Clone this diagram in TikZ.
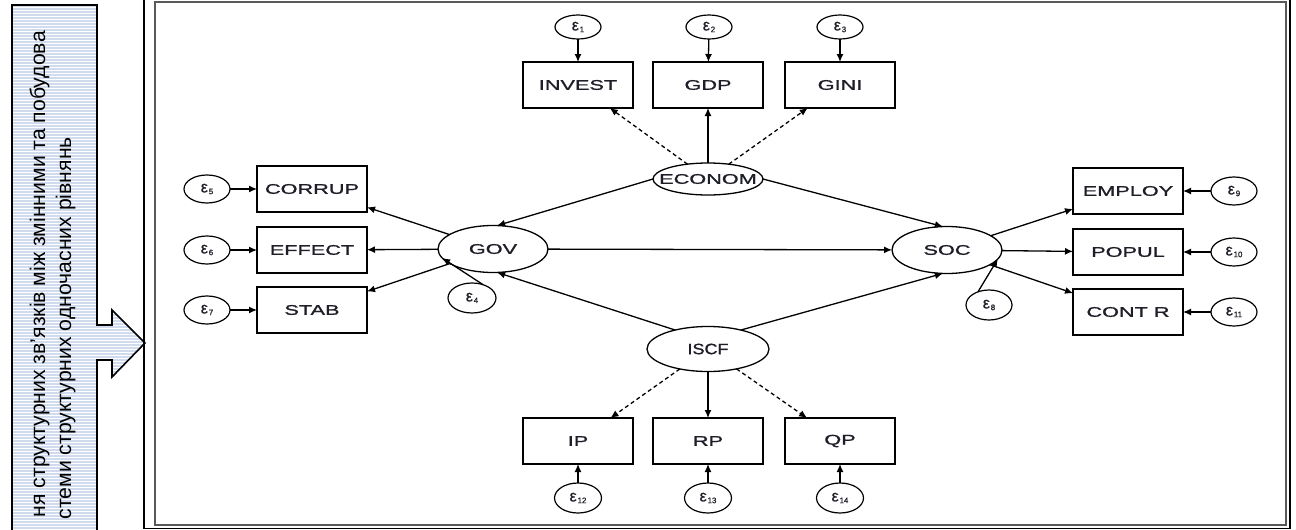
\documentclass[tikz,border=0pt]{standalone}
\usepackage{fontspec}
\setmainfont{Liberation Sans}
\newfontfamily\lblfont[FakeStretch=1.55,FakeBold=1.2]{Liberation Sans}
\newfontfamily\iscffont[FakeStretch=1.2,FakeBold=1.2]{Liberation Sans}
\newfontfamily\errfont[FakeBold=0.8]{Liberation Sans}
\usetikzlibrary{shapes.geometric,arrows.meta}
\definecolor{stripec}{RGB}{208,220,238}
\definecolor{txtc}{RGB}{30,30,40}
\newcommand\errlbl[1]{ε\kern0.8pt\raisebox{-1.8pt}{\fontsize{8}{8}\selectfont #1}}
\begin{document}
\begin{tikzpicture}[x=1pt,y=-1pt,
  box/.style={draw,line width=1.4pt,minimum width=110pt,minimum height=46pt,inner sep=0pt,outer sep=0pt,text=txtc,font=\lblfont\fontsize{14}{14}\selectfont},
  lat/.style={draw,ellipse,line width=1.3pt,minimum width=110pt,minimum height=47pt,inner sep=0pt,outer sep=0pt},
  lbl/.style={text=txtc,font=\lblfont\fontsize{14}{14}\selectfont,inner sep=0pt},
  err/.style={draw,ellipse,line width=1.2pt,minimum width=46pt,minimum height=28pt,inner sep=0pt,outer sep=0pt,text=txtc,font=\errfont\fontsize{16}{16}\selectfont},
  conn/.style={line width=1.3pt,-{Latex[length=8pt,width=7pt]}},
  dconn/.style={conn,dash pattern=on 4pt off 3pt},
  sidetxt/.style={rotate=90,anchor=base east,inner sep=0pt,font=\fontsize{21.2}{21.2}\selectfont}
]
\useasboundingbox (0,0) rectangle (1296,530);
\fill[white] (0,0) rectangle (1296,530);

% left callout panel
\begin{scope}
\clip (0,0) rectangle (1296,530);
\begin{scope}
\clip (12,545) -- (12,5) -- (97,5) -- (97,325) -- (112,325) -- (112,310) -- (145,343) -- (112,377) -- (112,360) -- (97,360) -- (97,545) -- cycle;
\foreach \yy in {6,9,...,545} \draw[stripec,line width=1.1pt] (10,\yy) -- (150,\yy);
\end{scope}
\draw[line width=1.6pt,line join=miter] (12,545) -- (12,5) -- (97,5) -- (97,325) -- (112,325) -- (112,310) -- (145,343) -- (112,377) -- (112,360) -- (97,360) -- (97,545);
\node[sidetxt] (t1) at (45,31) {ня структурних зв’язків між змінними та побудова};
\node[sidetxt] (t2) at (71,137) {стеми структурних одночасних рівнянь};
\end{scope}

% frame
\draw[line width=2.6pt,black!65] (155,2) rectangle (1286,525);
\draw[line width=1.8pt] (144,0) -- (144,528.5) -- (1290,528.5) -- (1290,0);

% top
\node[box] (INVEST) at (578,85) {INVEST};
\node[box] (GDP) at (708,85) {GDP};
\node[box] (GINI) at (840,85) {GINI};
\node[err,minimum height=24pt] (e1) at (578,27) {\errlbl{1}};
\node[err,minimum height=24pt] (e2) at (709,27) {\errlbl{2}};
\node[err,minimum height=24pt] (e3) at (840,27) {\errlbl{3}};

% latent
\node[lat,minimum height=32pt,label={[lbl]center:ECONOM}] (ECONOM) at (708,179) {};
\node[lat,label={[lbl]center:GOV}] (GOV) at (493,249) {};
\node[lat,label={[lbl]center:SOC}] (SOC) at (947,250) {};
\node[lat,minimum width=122pt,minimum height=45pt,label={[lbl,font=\iscffont\fontsize{15}{15}\selectfont]center:ISCF}] (ISCF) at (708,349) {};

% left boxes
\node[box] (CORRUP) at (312,189) {CORRUP};
\node[box] (EFFECT) at (312,250) {EFFECT};
\node[box] (STAB) at (312,310) {STAB};
\node[err] (e5) at (207,189) {\errlbl{5}};
\node[err] (e6) at (207,250) {\errlbl{6}};
\node[err] (e7) at (207,310) {\errlbl{7}};

% right boxes
\node[box] (EMPLOY) at (1128,191) {EMPLOY};
\node[box] (POPUL) at (1128,252) {POPUL};
\node[box] (CONTR) at (1128,312) {CONT R};
\node[err] (e9) at (1234,191) {\errlbl{9}};
\node[err] (e10) at (1234,252) {\errlbl{10}};
\node[err] (e11) at (1234,312) {\errlbl{11}};

% structural errors
\node[err,minimum width=48pt,minimum height=30pt] (e4) at (472,298) {\errlbl{4}};
\node[err,minimum height=30pt] (e8) at (989,305) {\errlbl{8}};

% bottom boxes
\node[box] (IP) at (578,441) {IP};
\node[box] (RP) at (708,441) {RP};
\node[box] (QP) at (840,441) {QP};
\node[err,minimum width=47pt,minimum height=30pt] (e12) at (578,498) {\errlbl{12}};
\node[err,minimum width=47pt,minimum height=30pt] (e13) at (708,498) {\errlbl{13}};
\node[err,minimum width=47pt,minimum height=30pt] (e14) at (840,498) {\errlbl{14}};

% error arrows
\draw[conn] (e1) -- (INVEST);
\draw[conn] (e2) -- (GDP);
\draw[conn] (e3) -- (GINI);
\draw[conn] (e5) -- (CORRUP);
\draw[conn] (e6) -- (EFFECT);
\draw[conn] (e7) -- (STAB);
\draw[conn] (e9) -- (EMPLOY);
\draw[conn] (e10) -- (POPUL);
\draw[conn] (e11) -- (CONTR);
\draw[conn] (e12) -- (IP);
\draw[conn] (e13) -- (RP);
\draw[conn] (e14) -- (QP);

% measurement
\draw[dconn] (ECONOM) -- (INVEST);
\draw[conn] (ECONOM) -- (GDP);
\draw[dconn] (ECONOM) -- (GINI);
\draw[conn] (GOV) -- (CORRUP);
\draw[conn] (GOV) -- (EFFECT);
\draw[conn] (GOV) -- (STAB);
\draw[conn] (SOC) -- (EMPLOY);
\draw[conn] (SOC) -- (POPUL);
\draw[conn] (SOC) -- (CONTR);
\draw[dconn] (ISCF) -- (IP);
\draw[conn] (ISCF) -- (RP);
\draw[dconn] (ISCF) -- (QP);

% structural
\draw[conn] (ECONOM.west) -- (GOV.80);
\draw[conn] (ECONOM.east) -- (SOC.100);
\draw[conn] (GOV) -- (SOC);
\draw[conn] (ISCF.150) -- (GOV.-80);
\draw[conn] (ISCF.30) -- (SOC.-100);
\draw[conn] (e4.50) -- (GOV.190);
\draw[conn] (e8.130) -- (SOC.-10);
\end{tikzpicture}
\end{document}
